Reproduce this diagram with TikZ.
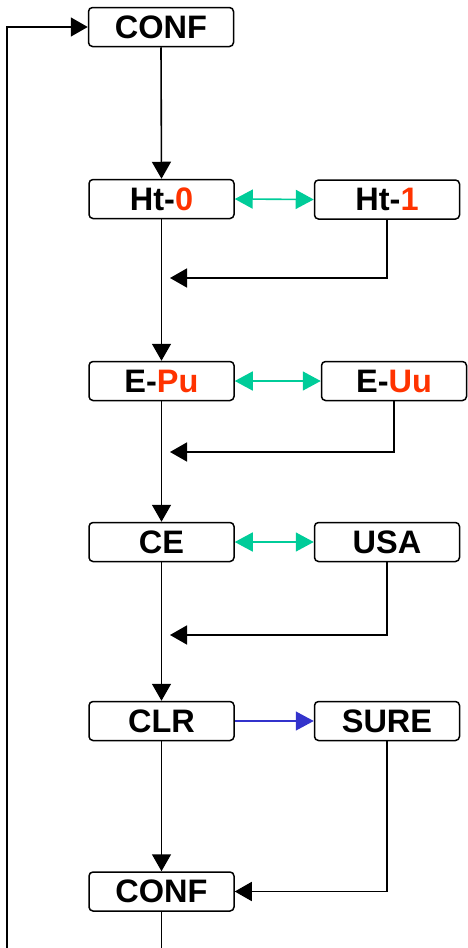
\documentclass[tikz,border=0pt]{standalone}
\usepackage{fontspec}
\setmainfont{Liberation Sans}
\usetikzlibrary{arrows.meta}
\definecolor{digitred}{HTML}{FF3300}
\definecolor{swapgreen}{HTML}{00CC99}
\definecolor{askblue}{HTML}{3333CC}
\tikzset{
  menubox/.style={draw, rounded corners=4pt, line width=1.5pt, minimum width=145pt,
    minimum height=39pt, inner sep=0pt, font=\bfseries\fontsize{32.5}{36}\selectfont},
  flow/.style={line width=1.6pt, -{Triangle[length=17pt,width=19pt]}},
  swap/.style={swapgreen, line width=1.6pt, {Triangle[length=18pt,width=19pt]}-{Triangle[length=18pt,width=19pt]}},
  ask/.style={askblue, line width=1.3pt, -{Triangle[length=18pt,width=19pt]}}
}
\begin{document}
\begin{tikzpicture}[x=1pt, y=-1pt]
\useasboundingbox (0,0) rectangle (467,948);

% Entry
\node [menubox] (conf1) at (161,27) {CONF};

% Heater type
\node [menubox] (ht0) at (161.5,199) {Ht-\textcolor{digitred}{0}};
\node [menubox] (ht1) at (387,199.5) {Ht-\textcolor{digitred}{1}};
\draw [swap] (ht0.east) -- (ht1.west);
\coordinate (back1) at (170,278);
\draw [flow] (ht1.south) |- (back1);

% Power unit
\node [menubox] (epu) at (161.5,381) {E-\textcolor{digitred}{Pu}};
\node [menubox] (euu) at (394,381) {E-\textcolor{digitred}{Uu}};
\draw [swap] (epu.east) -- (euu.west);
\coordinate (back2) at (170,452);
\draw [flow] (euu.south) |- (back2);

% Standard
\node [menubox] (ce) at (161.5,542) {CE};
\node [menubox] (usa) at (387,542) {USA};
\draw [swap] (ce.east) -- (usa.west);
\coordinate (back3) at (170,635);
\draw [flow] (usa.south) |- (back3);

% Clear
\node [menubox] (clr) at (161.5,721) {CLR};
\node [menubox] (sure) at (387,721) {SURE};
\draw [ask] (clr.east) -- (sure.west);

% Exit
\node [menubox] (conf2) at (161.5,891.5) {CONF};
\draw [flow] (sure.south) |- (conf2.east);

% Main line
\draw [flow] (conf1.south) -- (ht0.north);
\draw [flow] (ht0.south) -- (epu.north);
\draw [flow] (epu.south) -- (ce.north);
\draw [flow] (ce.south) -- (clr.north);
\draw [flow] (clr.south) -- (conf2.north);

% Loop back
\coordinate (loopout) at (161.5,948);
\coordinate (loopin) at (7,948);
\draw [line width=1.6pt] (conf2.south) -- (loopout);
\draw [flow] (loopin) |- (conf1.west);
\end{tikzpicture}
\end{document}
